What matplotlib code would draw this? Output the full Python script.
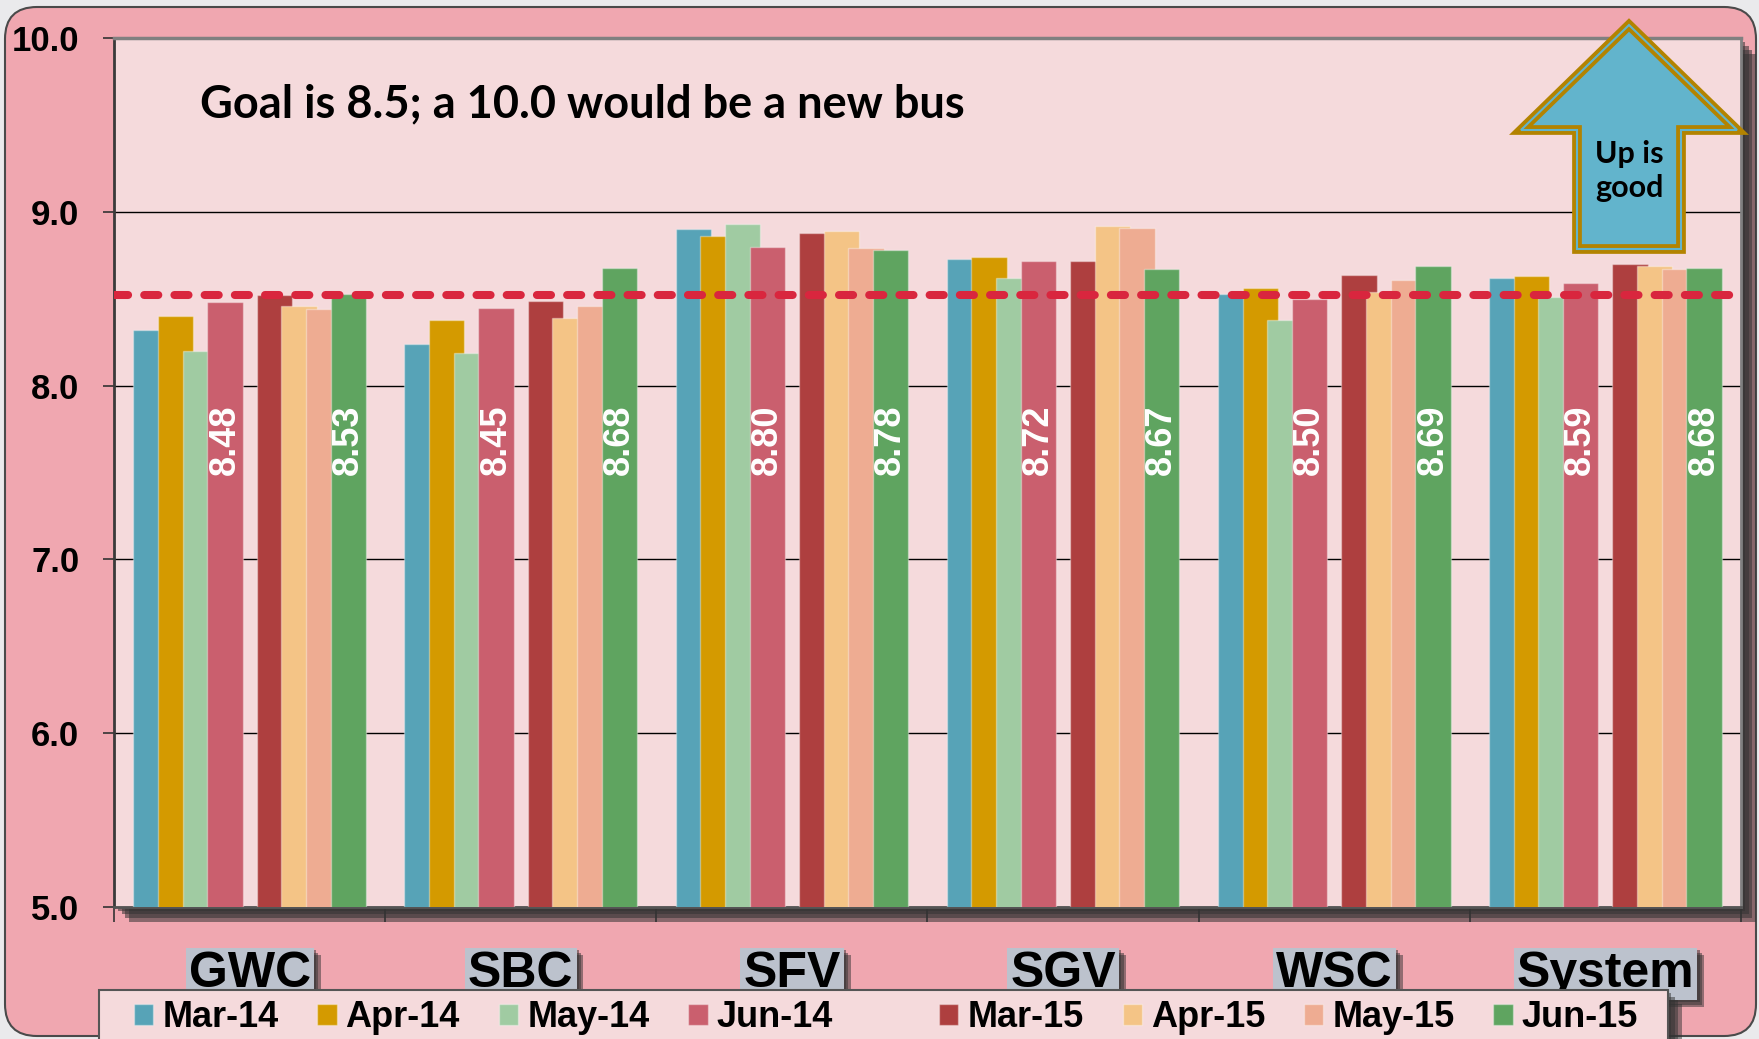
import matplotlib
matplotlib.use('Agg')
import matplotlib.pyplot as plt
import matplotlib.patheffects as pe
from matplotlib.patches import Rectangle, FancyBboxPatch, Polygon
from matplotlib.transforms import Affine2D, blended_transform_factory
import numpy as np

plt.rcParams['font.family'] = ['Liberation Sans', 'DejaVu Sans']

# data
regions = ['GWC', 'SBC', 'SFV', 'SGV', 'WSC', 'System']
months = ['Mar-14', 'Apr-14', 'May-14', 'Jun-14', 'Mar-15', 'Apr-15', 'May-15', 'Jun-15']
mar14 = [8.32, 8.24, 8.90, 8.73, 8.53, 8.62]
apr14 = [8.40, 8.38, 8.86, 8.74, 8.56, 8.63]
may14 = [8.20, 8.19, 8.93, 8.62, 8.38, 8.51]
jun14 = [8.48, 8.45, 8.80, 8.72, 8.50, 8.59]
mar15 = [8.52, 8.49, 8.88, 8.72, 8.64, 8.70]
apr15 = [8.46, 8.39, 8.89, 8.92, 8.54, 8.69]
may15 = [8.44, 8.46, 8.79, 8.91, 8.61, 8.67]
jun15 = [8.53, 8.68, 8.78, 8.67, 8.69, 8.68]
series = [mar14, apr14, may14, jun14, mar15, apr15, may15, jun15]
colors = ['#57A3B7', '#D49A00', '#A0CBA2', '#CA5F6E',
          '#AE3F3F', '#F4C486', '#EEAC92', '#5FA460']
slots = [0, 1, 2, 3, 5, 6, 7, 8]   # slot 4 is an empty spacer series
labeled = ['Jun-14', 'Jun-15']
goal = 8.52
yticks = [5, 6, 7, 8, 9, 10]

W, H = 1759, 1039
fig = plt.figure(figsize=(W / 100, H / 100), dpi=100, facecolor='#EAEAEC')
# pixel coords with origin at top-left
px = Affine2D().scale(1, -1).translate(0, H)


def soft_shadow(off, color='#555555', steps=4, alpha=0.28):
    # a few stacked offsets to fake a blurred drop shadow
    effects = []
    for s in range(steps):
        d = off * (s + 1) / steps
        effects.append(pe.SimplePatchShadow(offset=(d, -d), shadow_rgbFace=color, alpha=alpha))
    return effects + [pe.Normal()]


frame = FancyBboxPatch((5, 7), 1751, 1029, boxstyle='round,pad=0,rounding_size=32',
                       transform=px, fc='#F0A7B0', ec='#4a4a4a', lw=1.5, zorder=-10)
fig.add_artist(frame)

ax = fig.add_axes([114 / W, 1 - 906.7 / H, (1741 - 114) / W, (906.7 - 38.3) / H])
ax.set_facecolor('#F5DADC')
ax.patch.set_path_effects(soft_shadow(11, '#333333', steps=4, alpha=0.55))

step, width = 0.091, 0.13
x0 = np.arange(len(regions))
handles = []
for k, (vals, slot, col, lab) in enumerate(zip(series, slots, colors, months)):
    xs = x0 + (slot - 4) * step
    bars = ax.bar(xs, vals, width, color=col, edgecolor=(1, 1, 1, 0.35), linewidth=1,
                  zorder=3 + k, label=lab)
    handles.append(bars)
    if lab in labeled:
        for x, v in zip(xs, vals):
            ax.text(x, 7.69, f'{v:.2f}', rotation=90, ha='center', va='center',
                    color='white', fontsize=26, fontweight='bold', zorder=30)

ax.axhline(goal, color='#D9263E', lw=5.8, dashes=(1.75, 2.0), dash_capstyle='round', zorder=25)

ax.set_ylim(5, 10)
ax.set_yticks(yticks)
ax.set_yticklabels([f'{t:.1f}' for t in yticks], fontweight='bold')
ax.tick_params(axis='y', length=8, width=1.2, pad=17, labelsize=25, color='#333333')
ax.yaxis.grid(True, color='black', lw=1)
ax.set_axisbelow(True)

ax.set_xlim(-0.5, len(regions) - 0.5)
ax.set_xticks(np.arange(-0.5, len(regions), 1))
ax.set_xticklabels([])
ax.tick_params(axis='x', length=11, width=1.2, color='#333333')

ax.spines['left'].set_color('#3a3a3a')
ax.spines['left'].set_linewidth(2)
ax.spines['bottom'].set_color('#555555')
ax.spines['bottom'].set_linewidth(2)
ax.spines['top'].set_color('#808080')
ax.spines['top'].set_linewidth(2.5)
ax.spines['right'].set_color('#808080')
ax.spines['right'].set_linewidth(2)

# category labels in grey boxes
trans = blended_transform_factory(ax.transData, ax.transAxes)
for i, name in enumerate(regions):
    t = ax.text(i, -0.0925, name, transform=trans, ha='center', va='baseline',
                fontsize=36, fontweight='bold', clip_on=False,
                bbox=dict(boxstyle='square,pad=0.06', fc='#BCC2CD', ec='none'))
    t.get_bbox_patch().set_path_effects(soft_shadow(5, '#333333', steps=3, alpha=0.5))

ax.text(0.053, 0.909, 'Goal is 8.5; a 10.0 would be a new bus', transform=ax.transAxes,
        fontsize=32.5, family=['Lato', 'DejaVu Sans'], fontweight='bold', va='baseline')

# "Up is good" arrow
arrow_pts = [(1629, 25), (1521, 130), (1577, 130), (1577, 249),
             (1681, 249), (1681, 130), (1737, 130)]
fig.add_artist(Polygon(arrow_pts, closed=True, transform=px, fc='#62B4CC',
                       ec='#B38300', lw=7, joinstyle='miter', zorder=3))
fig.add_artist(Polygon(arrow_pts, closed=True, transform=px, fc='none',
                       ec='#62B4CC', lw=1.5, joinstyle='miter', zorder=3))
fig.text(1629 / W, 1 - 171 / H, 'Up is\ngood', ha='center', va='center', fontsize=22,
         family=['Lato', 'DejaVu Sans'], fontweight='bold', linespacing=1.3, zorder=4)

# legend box
lbox = Rectangle((99, 990), 1569, 80, transform=px, fc='#F5DADC', ec='#555555', lw=1.5, zorder=2)
lbox.set_path_effects(soft_shadow(10, '#333333', steps=4, alpha=0.5))
fig.add_artist(lbox)

blank = Rectangle((0, 0), 1, 1, fc='none', ec='none')
leg_handles = handles[:4] + [blank] + handles[4:]
leg_labels = months[:4] + [''] + months[4:]
fig.legend(leg_handles, leg_labels, loc='upper left', bbox_to_anchor=(134, 1000),
           bbox_transform=px, ncol=9, frameon=False, borderpad=0, borderaxespad=0,
           handlelength=0.53, handleheight=0.53, handletextpad=0.25, columnspacing=1.08,
           prop={'size': 26, 'weight': 'bold'})

fig.savefig('out.png', dpi=100, facecolor=fig.get_facecolor())
